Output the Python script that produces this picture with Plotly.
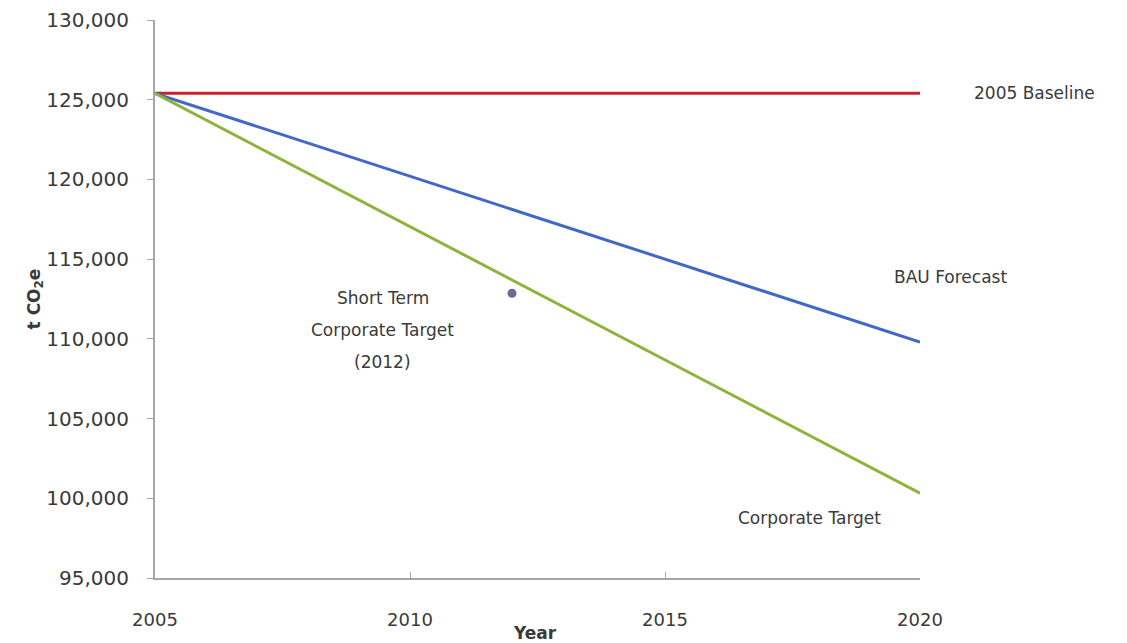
import plotly.graph_objects as go

# Emissions pathways, t CO2e
years = [2005, 2020]
baseline = [125400, 125400]
bau_forecast = [125400, 109800]
corporate_target = [125400, 100320]

short_term_year = [2012]
short_term_value = [112860]
short_term_lines = ["Short Term", "Corporate Target", "(2012)"]

x_ticks = [2005, 2010, 2015, 2020]
y_ticks = [95000, 100000, 105000, 110000, 115000, 120000, 125000, 130000]

FONT = "DejaVu Sans"
TEXT = "#3a3a3a"
AXIS = "#a6a6a6"

fig = go.Figure()
fig.add_trace(go.Scatter(x=years, y=baseline, mode="lines",
                         line=dict(color="#C8202C", width=3), hoverinfo="skip"))
fig.add_trace(go.Scatter(x=years, y=bau_forecast, mode="lines",
                         line=dict(color="#3F68C8", width=3), hoverinfo="skip"))
fig.add_trace(go.Scatter(x=years, y=corporate_target, mode="lines",
                         line=dict(color="#8CB43A", width=3), hoverinfo="skip"))
fig.add_trace(go.Scatter(x=short_term_year, y=short_term_value, mode="markers",
                         marker=dict(color="#6B6A9C", size=9), hoverinfo="skip"))

ann_font = dict(family=FONT, size=17, color=TEXT)
# series labels
fig.add_annotation(x=1.068, y=baseline[-1], text="2005 Baseline", xref="paper", yref="y",
                   xanchor="left", yanchor="middle", showarrow=False, font=ann_font)
fig.add_annotation(x=2019.45, y=113900, text="BAU Forecast", xref="x", yref="y",
                   xanchor="left", yanchor="middle", showarrow=False, font=ann_font)
fig.add_annotation(x=2016.4, y=98750, text="Corporate Target", xref="x", yref="y",
                   xanchor="left", yanchor="middle", showarrow=False, font=ann_font)
# short-term target note, one annotation per line
for i, line in enumerate(short_term_lines):
    fig.add_annotation(x=2009.47, y=112550 - i * 2000, text=line, xref="x", yref="y",
                       xanchor="center", yanchor="middle", showarrow=False, font=ann_font)
# x-axis title, tucked just under the tick labels
fig.add_annotation(x=0.497, y=-0.099, text="<b>Year</b>", xref="paper", yref="paper",
                   xanchor="center", yanchor="middle", showarrow=False,
                   font=dict(family=FONT, size=17, color=TEXT))

fig.update_layout(
    width=1127, height=643,
    margin=dict(l=155, r=207, t=20, b=65),
    paper_bgcolor="white", plot_bgcolor="white",
    showlegend=False,
    font=dict(family=FONT, color=TEXT),
    xaxis=dict(range=[2005, 2020], tickvals=x_ticks, showgrid=False, zeroline=False,
               showline=True, linecolor=AXIS, linewidth=2, automargin=False,
               ticks="inside", ticklen=6, tickcolor=AXIS,
               ticklabelstandoff=24,
               tickfont=dict(family=FONT, size=18, color=TEXT)),
    yaxis=dict(range=[95000, 130000], tickvals=y_ticks, tickformat=",d", showgrid=False,
               zeroline=False, showline=True, linecolor=AXIS, linewidth=2, automargin=False,
               ticks="outside", ticklen=6, tickcolor=AXIS,
               ticklabelstandoff=14,
               tickfont=dict(family=FONT, size=20, color=TEXT),
               title=dict(text="<b>t CO<sub>2</sub>e</b>",
                          font=dict(family=FONT, size=17, color=TEXT), standoff=0)),
)

fig.write_html("out.html")
